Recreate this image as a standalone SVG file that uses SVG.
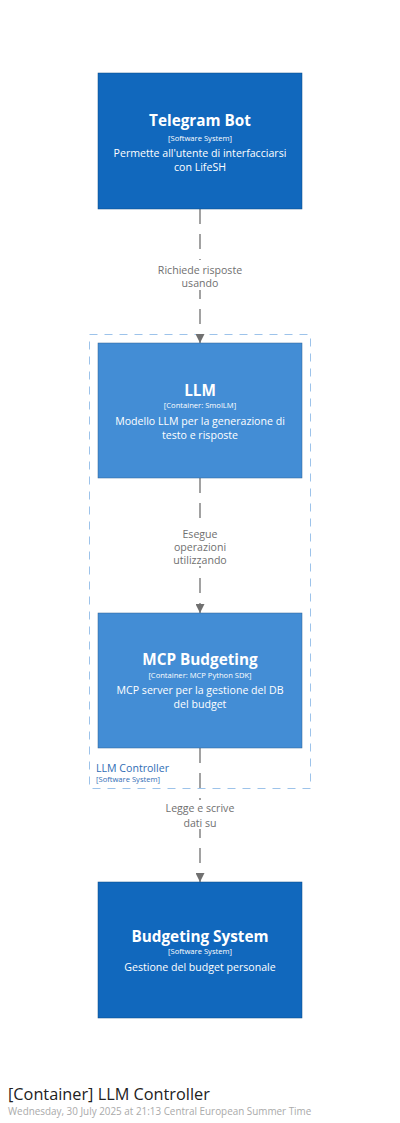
<svg xmlns="http://www.w3.org/2000/svg" width="400" height="1123" viewBox="0 0 400 1123">
<style>
text{font-family:"Open Sans","Noto Sans","Liberation Sans",sans-serif;text-anchor:middle}
.sys{fill:#1168BD;stroke:#0B4884;stroke-width:0.5}
.cont{fill:#438DD5;stroke:#2E6295;stroke-width:0.5}
.t{fill:#fff;font-weight:bold;font-size:15.3px}
.k{fill:#fff;font-size:7.6px}
.d{fill:#fff;font-size:10.6px}
.lbl{fill:#707070;font-size:10.6px}
.conn{stroke:#707070;stroke-width:1.3;fill:none;stroke-dasharray:15,10}
.bd{fill:none;stroke:#9DC3EA;stroke-width:1;stroke-dasharray:8,7}
</style>
<defs>
<marker id="ah" viewBox="0 0 10 10" refX="10" refY="5" markerWidth="9" markerHeight="9" markerUnits="userSpaceOnUse" orient="auto">
<path d="M0,0 L10,5 L0,10 z" fill="#707070"/>
</marker>
</defs>
<rect width="400" height="1123" fill="#fff"/>
<g id="boundary">
<rect class="bd" x="89.5" y="334.5" width="221" height="454"/>
<text x="96" y="772" style="text-anchor:start;fill:#2F6DB5;font-size:10.6px">LLM Controller</text>
<text x="96" y="782" style="text-anchor:start;fill:#2F6DB5;font-size:7.6px">[Software System]</text>
</g>
<g id="connectors">
<line class="conn" x1="200" y1="209" x2="200" y2="343" marker-end="url(#ah)"/>
<line class="conn" x1="200" y1="478" x2="200" y2="613" marker-end="url(#ah)"/>
<line class="conn" x1="200" y1="748" x2="200" y2="882" marker-end="url(#ah)"/>
<rect x="145" y="260" width="110" height="30" fill="#fff"/>
<text class="lbl" x="200" y="274">Richiede risposte</text>
<text class="lbl" x="200" y="287">usando</text>
<rect x="160" y="524" width="80" height="42" fill="#fff"/>
<text class="lbl" x="200" y="538">Esegue</text>
<text class="lbl" x="200" y="551">operazioni</text>
<text class="lbl" x="200" y="564">utilizzando</text>
<rect x="155" y="800" width="90" height="29" fill="#fff"/>
<text class="lbl" x="200" y="812">Legge e scrive</text>
<text class="lbl" x="200" y="827">dati su</text>
</g>
<g id="telegram-bot">
<rect class="sys" x="98" y="73" width="204" height="136"/>
<text class="t" x="200" y="126">Telegram Bot</text>
<text class="k" x="200" y="141">[Software System]</text>
<text class="d" x="200" y="157">Permette all'utente di interfacciarsi</text>
<text class="d" x="200" y="171">con LifeSH</text>
</g>
<g id="llm">
<rect class="cont" x="98" y="343" width="204" height="135"/>
<text class="t" x="200" y="396">LLM</text>
<text class="k" x="200" y="408">[Container: SmolLM]</text>
<text class="d" x="200" y="425">Modello LLM per la generazione di</text>
<text class="d" x="200" y="439">testo e risposte</text>
</g>
<g id="mcp-budgeting">
<rect class="cont" x="98" y="613" width="204" height="135"/>
<text class="t" x="200" y="665">MCP Budgeting</text>
<text class="k" x="200" y="678">[Container: MCP Python SDK]</text>
<text class="d" x="200" y="694">MCP server per la gestione del DB</text>
<text class="d" x="200" y="708">del budget</text>
</g>
<g id="budgeting-system">
<rect class="sys" x="98" y="882" width="204" height="136"/>
<text class="t" x="200" y="942">Budgeting System</text>
<text class="k" x="200" y="954">[Software System]</text>
<text class="d" x="200" y="971">Gestione del budget personale</text>
</g>
<g id="footer">
<text x="8" y="1100" style="text-anchor:start;fill:#222;font-size:16.3px">[Container] LLM Controller</text>
<text x="8" y="1115" style="text-anchor:start;fill:#aaa;font-size:9.9px">Wednesday, 30 July 2025 at 21:13 Central European Summer Time</text>
</g>
</svg>
